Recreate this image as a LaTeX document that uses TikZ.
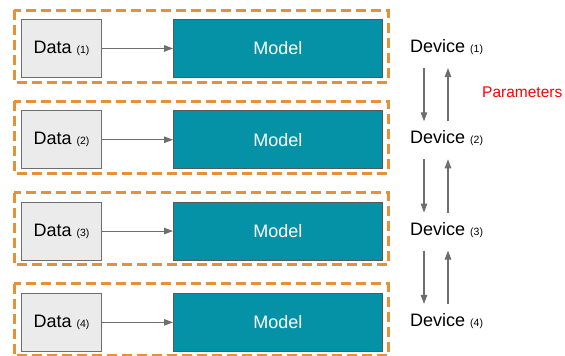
\documentclass[tikz,border=0pt]{standalone}
\usepackage{fontspec}
\setmainfont{Liberation Sans}
\usetikzlibrary{arrows.meta}
\definecolor{grpOrange}{HTML}{E69138}
\definecolor{modelTeal}{HTML}{0592A7}
\definecolor{dataFill}{HTML}{EBEBEB}
\definecolor{edgeGray}{HTML}{6E6E6E}
\tikzset{
  x=1pt, y=-1pt,
  group/.style={draw=grpOrange, line width=3pt, dash pattern=on 10pt off 5pt},
  databox/.style={draw=edgeGray, fill=dataFill, line width=0.9pt},
  modelbox/.style={draw=edgeGray!80!black, fill=modelTeal, line width=0.9pt},
  flow/.style={draw=edgeGray, line width=1.1pt, -{Triangle[length=9pt,width=6.5pt]}},
  big/.style={font=\fontsize{18}{21}\selectfont},
}
\newcommand{\subnum}[1]{{\fontsize{10.5}{12}\selectfont(#1)}}
\begin{document}
\begin{tikzpicture}
\useasboundingbox (0,0) rectangle (565,356);
\foreach \i/\y in {1/0, 2/91.3, 3/182.6, 4/273.9} {
  \draw[group] (14,10+\y) rectangle (388,82+\y);
  \node[databox, minimum width=80pt, minimum height=58pt, anchor=north west, inner sep=0pt, big]
    (data\i) at (21,19+\y) {Data \subnum{\i}};
  \node[modelbox, minimum width=209pt, minimum height=58pt, anchor=north west, inner sep=0pt,
    text=white, big] (model\i) at (173,19+\y) {Model};
  \draw[flow] (data\i) -- (model\i);
  \node[anchor=west, inner sep=0pt, big] (dev\i) at (410,47+\y) {Device \subnum{\i}};
}
\foreach \a/\b in {1/2, 2/3, 3/4} {
  \coordinate (d\a) at ([xshift=14pt, yshift=-21pt]dev\a.west);
  \coordinate (e\a) at ([xshift=14pt, yshift=17pt]dev\b.west);
  \draw[flow] (d\a) -- (e\a);
  \coordinate (u\a) at ([xshift=38pt, yshift=17pt]dev\b.west);
  \coordinate (v\a) at ([xshift=38pt, yshift=-21pt]dev\a.west);
  \draw[flow] (u\a) -- (v\a);
}
\node[anchor=west, inner sep=0pt, text=red, font=\fontsize{15.5}{18}\selectfont] (params) at (482,92) {Parameters};
\end{tikzpicture}
\end{document}
